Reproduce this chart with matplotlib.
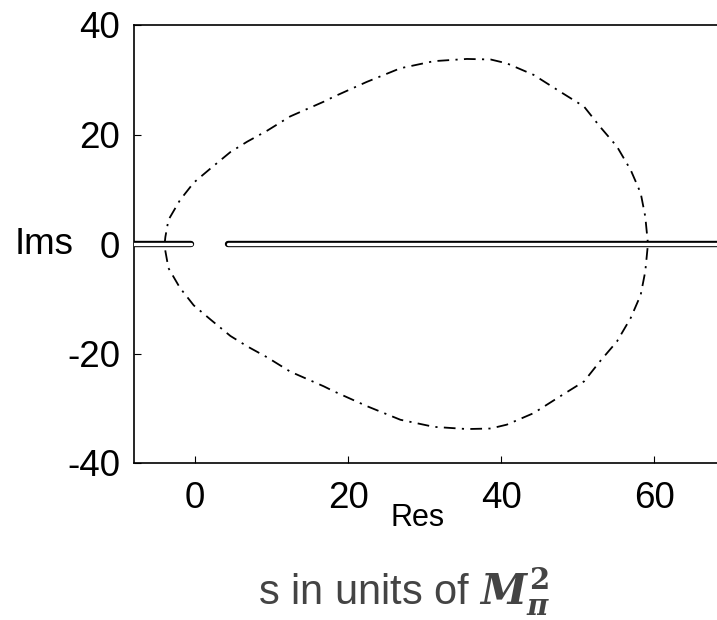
import matplotlib
matplotlib.use('Agg')
import matplotlib.pyplot as plt
import numpy as np

# upper half of the dash-dot contour (lower half is its mirror image)
contour_x = [-4.0, -3.9, -3.5, -2.0, -0.2, 2.0, 4.6, 6.8, 9.4, 12.4, 16.8, 18.1,
             22.4, 26.8, 31.2, 35.5, 38.6, 40.7, 44.2, 47.7, 50.8, 52.9, 55.1,
             56.9, 58.2, 58.8, 59.1, 59.2]
contour_y = [0.0, 1.3, 4.4, 8.0, 11.2, 13.8, 16.8, 18.7, 20.7, 23.3, 26.0, 26.9,
             29.6, 32.1, 33.4, 33.8, 33.7, 33.0, 30.9, 27.8, 25.1, 21.4, 17.8,
             13.5, 9.3, 5.0, 0.7, 0.0]

# branch cuts along the real axis
left_cut = [-12.0, -0.6]
right_cut = [4.3, 80.0]

x_ticks = [0, 20, 40, 60]
y_ticks = [-40, -20, 0, 20, 40]

plt.rcParams['font.family'] = ['Liberation Sans', 'DejaVu Sans']
plt.rcParams['mathtext.fontset'] = 'custom'
plt.rcParams['mathtext.it'] = 'DejaVu Serif:italic:bold'
plt.rcParams['mathtext.rm'] = 'DejaVu Serif:bold'
plt.rcParams['mathtext.bf'] = 'DejaVu Serif:bold'

fig = plt.figure(figsize=(7.17, 6.2), dpi=100)
ax = fig.add_axes([134 / 717, 157 / 620, 597 / 717, 438 / 620])

# closed contour
cx = np.array(contour_x)
cy = np.array(contour_y)
full_x = np.concatenate([cx, cx[::-1]])
full_y = np.concatenate([cy, -cy[::-1]])
ax.plot(full_x, full_y, color='black', lw=1.3, dashes=(6.5, 3.5, 1.2, 3.5))

# cuts drawn as thin rounded slits
for cut in (left_cut, right_cut):
    ax.plot(cut, [0, 0], color='black', lw=4.6, solid_capstyle='round', zorder=3)
    ax.plot(cut, [0, 0], color='white', lw=2.4, solid_capstyle='round', zorder=4)

ax.set_xlim(-8, 70)
ax.set_ylim(-40, 40)
ax.set_xticks(x_ticks)
ax.set_yticks(y_ticks)
ax.set_xticklabels([str(v) for v in x_ticks])
ax.set_yticklabels([str(v) for v in y_ticks])
ax.tick_params(direction='in', length=5, width=0.8, labelsize=26.5, pad=13)
ax.tick_params(axis='y', pad=10)
for s in ax.spines.values():
    s.set_linewidth(1.2)
ax.spines['right'].set_visible(False)

fig.text(15 / 717, 1 - 244 / 620, 'Ims', fontsize=26.5, va='center', ha='left')
fig.text(418 / 717, 1 - 518 / 620, 'Res', fontsize=22, va='center', ha='center')
fig.text(258 / 717, 1 - 592 / 620, r's in units of $M_{\pi}^{2}$',
         fontsize=30, color='#444444', va='center', ha='left')

fig.savefig('out.png', dpi=100)
